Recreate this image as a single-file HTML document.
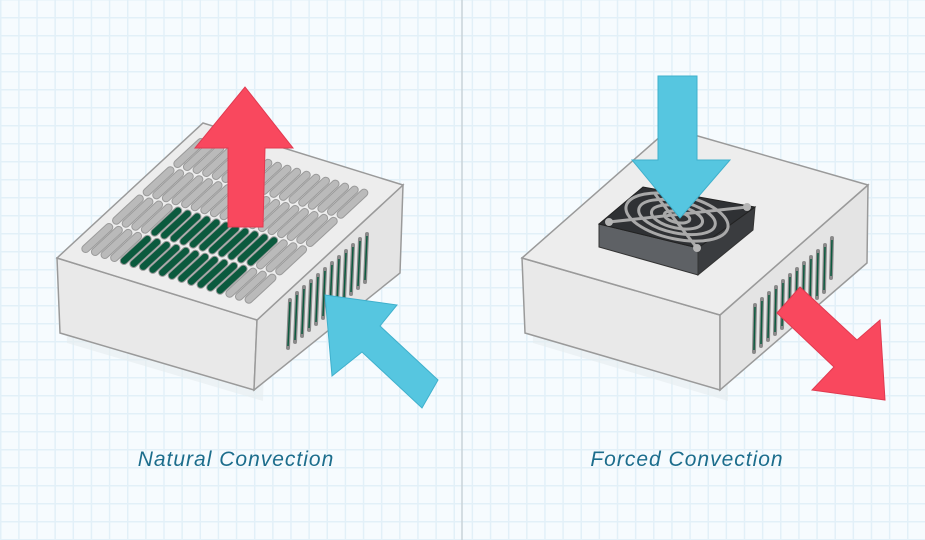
<!DOCTYPE html>
<html><head><meta charset="utf-8"><style>
html,body{margin:0;padding:0}
body{width:925px;height:540px;overflow:hidden;background:#f6fbfe;
background-image:linear-gradient(to right,#e2f0f8 1.5px,transparent 1.5px),linear-gradient(to bottom,#e2f0f8 1.5px,transparent 1.5px);
background-size:18.15px 18px;background-position:0 -1px;position:relative;font-family:"Liberation Sans",sans-serif}
.lbl{position:absolute;top:448px;color:#1c6d8c;font-size:21px;font-style:italic;letter-spacing:1px;width:300px;text-align:center}
</style></head><body>
<div class="lbl" style="left:86px">Natural Convection</div>
<div class="lbl" style="left:537px">Forced Convection</div>
<svg width="925" height="540" style="position:absolute;left:0;top:0">
<defs>
<g id="r0"><line x1="71.6" y1="244.5" x2="95" y2="222.9"/></g>
<g id="r1"><line x1="102.3" y1="216.2" x2="125.6" y2="194.5"/></g>
<g id="r2"><line x1="132.9" y1="187.8" x2="156.3" y2="166.2"/></g>
<g id="r3"><line x1="163.6" y1="159.5" x2="186.9" y2="137.9"/></g>
<g id="cg" stroke-linecap="round">
<g stroke="#9a9a9a" stroke-width="8.5"><use href="#r0"/><use href="#r1"/><use href="#r2"/><use href="#r3"/></g>
<g stroke="#bababa" stroke-width="6.5"><use href="#r0"/><use href="#r1"/><use href="#r2"/><use href="#r3"/></g>
</g>
<g id="cG" stroke-linecap="round">
<g stroke="#9a9a9a" stroke-width="8.5"><use href="#r0"/><use href="#r1"/><use href="#r2"/><use href="#r3"/></g>
<g stroke="#bababa" stroke-width="6.5"><use href="#r2"/><use href="#r3"/></g>
<g stroke="#0b5a3e" stroke-width="6.5"><use href="#r0"/><use href="#r1"/></g>
</g>
</defs>
<line x1="462" y1="0" x2="462" y2="540" stroke="#c9d3d8" stroke-width="1.5"/>
<!-- LEFT BOX -->
<polygon points="60,262 260,326 258,396 62,338" fill="#e6ecee" opacity="0.6" transform="translate(5,5)"/>
<polygon points="57,258 257,320 254,390 60,333" fill="#e9e9e9" stroke="#9a9a9a" stroke-width="1.5"/>
<polygon points="257,320 403,185 400,273 254,390" fill="#e4e4e4" stroke="#9a9a9a" stroke-width="1.5"/>
<polygon points="57,258 203,123 403,185 257,320" fill="#ededed" stroke="#9a9a9a" stroke-width="1.5"/>
<use href="#cg" transform="translate(14,4.3)"/>
<use href="#cg" transform="translate(23.6,7.28)"/>
<use href="#cg" transform="translate(33.2,10.26)"/>
<use href="#cg" transform="translate(42.8,13.24)"/>
<use href="#cG" transform="translate(52.4,16.22)"/>
<use href="#cG" transform="translate(62,19.2)"/>
<use href="#cG" transform="translate(71.6,22.18)"/>
<use href="#cG" transform="translate(81.2,25.16)"/>
<use href="#cG" transform="translate(90.8,28.14)"/>
<use href="#cG" transform="translate(100.4,31.12)"/>
<use href="#cG" transform="translate(110,34.1)"/>
<use href="#cG" transform="translate(119.6,37.08)"/>
<use href="#cG" transform="translate(129.2,40.06)"/>
<use href="#cG" transform="translate(138.8,43.04)"/>
<use href="#cG" transform="translate(148.4,46.02)"/>
<use href="#cg" transform="translate(158,49)"/>
<use href="#cg" transform="translate(167.6,51.98)"/>
<use href="#cg" transform="translate(177.2,54.96)"/>
<!-- left side vents -->
<g stroke="#8a8a8a" stroke-width="4" stroke-linecap="round">
<line x1="290" y1="300" x2="288" y2="348"/><line x1="297" y1="293" x2="295" y2="342"/><line x1="304" y1="287" x2="302" y2="336"/><line x1="311" y1="281" x2="309" y2="330"/><line x1="318" y1="275" x2="316" y2="324"/><line x1="325" y1="269" x2="323" y2="318"/><line x1="332" y1="263" x2="330" y2="312"/><line x1="339" y1="257" x2="337" y2="306"/><line x1="346" y1="251" x2="344" y2="300"/><line x1="353" y1="245" x2="351" y2="294"/><line x1="360" y1="239" x2="358" y2="288"/><line x1="367" y1="234" x2="365" y2="282"/>
</g>
<g stroke="#0b5a3e" stroke-width="1.5">
<line x1="290" y1="302" x2="288" y2="346"/><line x1="297" y1="295" x2="295" y2="340"/><line x1="304" y1="289" x2="302" y2="334"/><line x1="311" y1="283" x2="309" y2="328"/><line x1="318" y1="277" x2="316" y2="322"/><line x1="325" y1="271" x2="323" y2="316"/><line x1="332" y1="265" x2="330" y2="310"/><line x1="339" y1="259" x2="337" y2="304"/><line x1="346" y1="253" x2="344" y2="298"/><line x1="353" y1="247" x2="351" y2="292"/><line x1="360" y1="241" x2="358" y2="286"/><line x1="367" y1="236" x2="365" y2="280"/>
</g>
<!-- red up arrow -->
<polygon points="228,227 263,227 265,148 293,148 245,87 195,148 228,148" fill="#f9485e" stroke="#e13a50" stroke-width="1"/>
<!-- blue arrow left -->
<polygon points="325,295 397,305 380,326 438,380 422,408 362,352 332,376" fill="#56c6e0" stroke="#3fb0cc" stroke-width="1"/>

<!-- RIGHT BOX -->
<polygon points="525,262 723,320 723,396 528,338" fill="#e6ecee" opacity="0.6" transform="translate(5,5)"/>
<polygon points="522,258 720,315 720,390 525,333" fill="#e9e9e9" stroke="#9a9a9a" stroke-width="1.5"/>
<polygon points="720,315 868,185 867,263 720,390" fill="#e4e4e4" stroke="#9a9a9a" stroke-width="1.5"/>
<polygon points="522,258 670,128 868,185 720,315" fill="#ededed" stroke="#9a9a9a" stroke-width="1.5"/>
<g stroke="#8a8a8a" stroke-width="4" stroke-linecap="round">
<line x1="755" y1="305" x2="754" y2="352"/><line x1="762" y1="299" x2="761" y2="346"/><line x1="769" y1="293" x2="768" y2="340"/><line x1="776" y1="287" x2="775" y2="334"/><line x1="783" y1="281" x2="782" y2="328"/><line x1="790" y1="275" x2="789" y2="322"/><line x1="797" y1="269" x2="796" y2="316"/><line x1="804" y1="263" x2="803" y2="310"/><line x1="811" y1="257" x2="810" y2="304"/><line x1="818" y1="251" x2="817" y2="298"/><line x1="825" y1="245" x2="824" y2="292"/><line x1="832" y1="238" x2="831" y2="278"/>
</g>
<g stroke="#0b5a3e" stroke-width="1.5">
<line x1="755" y1="307" x2="754" y2="350"/><line x1="762" y1="301" x2="761" y2="344"/><line x1="769" y1="295" x2="768" y2="338"/><line x1="776" y1="289" x2="775" y2="332"/><line x1="783" y1="283" x2="782" y2="326"/><line x1="790" y1="277" x2="789" y2="320"/><line x1="797" y1="271" x2="796" y2="314"/><line x1="804" y1="265" x2="803" y2="308"/><line x1="811" y1="259" x2="810" y2="302"/><line x1="818" y1="253" x2="817" y2="296"/><line x1="825" y1="247" x2="824" y2="290"/><line x1="832" y1="240" x2="831" y2="276"/>
</g>
<!-- fan -->
<polygon points="599,224 698,248 698,275 599,247" fill="#5e6165" stroke="#333" stroke-width="1"/>
<polygon points="698,248 755,207 753,230 698,275" fill="#3a3c3f" stroke="#333" stroke-width="1"/>
<polygon points="599,224 643,187 755,207 698,248" fill="#2f3134" stroke="#222" stroke-width="1"/>
<g fill="none" stroke="#a9a9a9" stroke-width="3">
<ellipse cx="677" cy="217" rx="52" ry="22" transform="rotate(12 677 217)"/>
<ellipse cx="677" cy="217" rx="39" ry="16" transform="rotate(12 677 217)"/>
<ellipse cx="677" cy="217" rx="26" ry="11" transform="rotate(12 677 217)"/>
<ellipse cx="677" cy="217" rx="13" ry="5.5" transform="rotate(12 677 217)"/>
<line x1="609" y1="222" x2="747" y2="207"/><line x1="655" y1="194" x2="697" y2="248"/>
</g>
<g fill="#b5b5b5"><circle cx="609" cy="222" r="4"/><circle cx="747" cy="207" r="4"/><circle cx="697" cy="248" r="4"/></g>
<!-- blue down arrow -->
<polygon points="658,76 697,76 697,160 730,160 680,218 632,160 658,160" fill="#56c6e0" stroke="#3fb0cc" stroke-width="1"/>
<!-- red diagonal arrow -->
<polygon points="777,313 800,287 857,340 880,320 885,400 812,390 834,367" fill="#f9485e" stroke="#e13a50" stroke-width="1"/>
</svg>
</body></html>
